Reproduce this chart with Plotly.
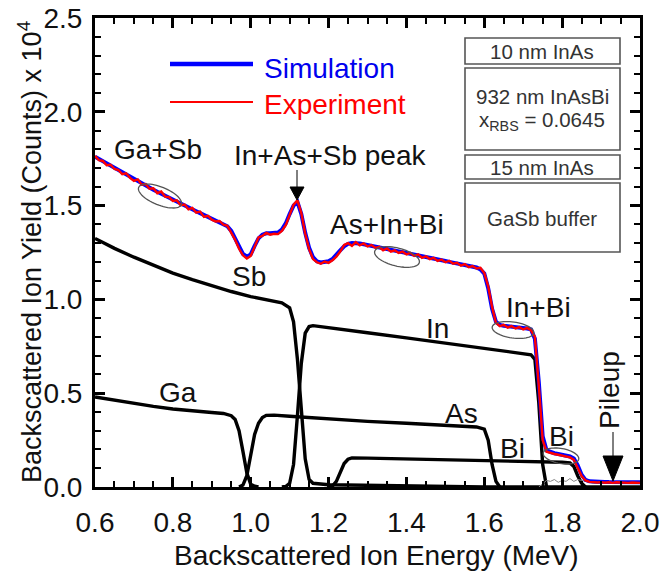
import plotly.graph_objects as go
import math

# ---------------- data (counts x 10^4) ----------------
energy = [round(0.60 + 0.01 * i, 2) for i in range(141)]

simulation = [
    1.760, 1.748, 1.736, 1.724, 1.712, 1.700, 1.688, 1.676, 1.664, 1.652,
    1.640, 1.629, 1.618, 1.607, 1.596, 1.585, 1.574, 1.563, 1.552, 1.541,
    1.530, 1.520, 1.510, 1.500, 1.490, 1.480, 1.470, 1.460, 1.450, 1.440,
    1.430, 1.422, 1.414, 1.405, 1.390, 1.365, 1.325, 1.280, 1.243, 1.228,
    1.240, 1.285, 1.325, 1.345, 1.352, 1.352, 1.352, 1.356, 1.372, 1.405,
    1.455, 1.500, 1.520, 1.455, 1.355, 1.275, 1.225, 1.203, 1.197, 1.198,
    1.203, 1.215, 1.235, 1.262, 1.283, 1.296, 1.300, 1.300, 1.298, 1.294,
    1.290, 1.286, 1.282, 1.277, 1.273, 1.269, 1.265, 1.260, 1.256, 1.252,
    1.248, 1.243, 1.239, 1.235, 1.230, 1.226, 1.222, 1.217, 1.213, 1.209,
    1.205, 1.200, 1.196, 1.192, 1.188, 1.183, 1.179, 1.175, 1.170, 1.160,
    1.138, 1.060, 0.950, 0.880, 0.864, 0.860, 0.858, 0.855, 0.853, 0.850,
    0.848, 0.845, 0.840, 0.790, 0.560, 0.270, 0.195, 0.185, 0.180, 0.176,
    0.172, 0.168, 0.163, 0.152, 0.115, 0.065, 0.038, 0.030, 0.028, 0.027,
    0.027, 0.027, 0.026, 0.026, 0.026, 0.026, 0.025, 0.025, 0.025, 0.025,
    0.025,
]

experiment = [
    1.765, 1.742, 1.738, 1.715, 1.718, 1.695, 1.690, 1.668, 1.672, 1.648,
    1.632, 1.640, 1.612, 1.615, 1.590, 1.592, 1.566, 1.575, 1.548, 1.545,
    1.525, 1.528, 1.502, 1.506, 1.480, 1.488, 1.462, 1.468, 1.440, 1.446,
    1.425, 1.415, 1.418, 1.398, 1.392, 1.358, 1.318, 1.270, 1.235, 1.218,
    1.232, 1.280, 1.330, 1.338, 1.355, 1.345, 1.350, 1.348, 1.365, 1.395,
    1.448, 1.505, 1.528, 1.460, 1.350, 1.268, 1.215, 1.198, 1.190, 1.202,
    1.195, 1.208, 1.228, 1.255, 1.290, 1.300, 1.285, 1.305, 1.288, 1.298,
    1.282, 1.290, 1.275, 1.280, 1.262, 1.272, 1.255, 1.262, 1.248, 1.255,
    1.240, 1.248, 1.232, 1.240, 1.222, 1.230, 1.215, 1.222, 1.205, 1.212,
    1.198, 1.206, 1.190, 1.195, 1.180, 1.188, 1.172, 1.178, 1.165, 1.168,
    1.140, 1.070, 0.960, 0.875, 0.858, 0.865, 0.850, 0.858, 0.845, 0.852,
    0.840, 0.848, 0.835, 0.800, 0.540, 0.250, 0.188, 0.180, 0.176, 0.172,
    0.168, 0.164, 0.158, 0.145, 0.105, 0.058, 0.035, 0.027, 0.026, 0.024,
    0.026, 0.023, 0.025, 0.022, 0.025, 0.023, 0.024, 0.022, 0.024, 0.023,
    0.022,
]

sb_x = [0.60, 0.65, 0.70, 0.75, 0.80, 0.85, 0.90, 0.95, 1.00, 1.05, 1.08,
        1.10, 1.11, 1.12, 1.13, 1.14, 1.15, 1.16, 1.20, 1.30, 1.40, 1.60, 2.00]
sb_y = [1.325, 1.272, 1.225, 1.182, 1.140, 1.105, 1.072, 1.042, 1.015, 0.995, 0.982,
        0.955, 0.880, 0.680, 0.400, 0.150, 0.040, 0.020, 0.012, 0.008, 0.005, 0.0, 0.0]

ga_x = [0.60, 0.65, 0.70, 0.75, 0.80, 0.85, 0.90, 0.93, 0.95, 0.96, 0.97,
        0.98, 0.99, 1.00, 1.01, 1.02]
ga_y = [0.480, 0.462, 0.446, 0.430, 0.416, 0.405, 0.397, 0.392, 0.380, 0.360, 0.300,
        0.190, 0.075, 0.015, 0.004, 0.0]

as_x = [0.97, 0.98, 0.99, 1.00, 1.01, 1.02, 1.03, 1.04, 1.06, 1.10, 1.20,
        1.30, 1.40, 1.50, 1.58, 1.60, 1.61, 1.62, 1.63, 1.64]
as_y = [0.0, 0.010, 0.060, 0.170, 0.280, 0.340, 0.370, 0.382, 0.383, 0.377, 0.362,
        0.350, 0.340, 0.330, 0.320, 0.308, 0.250, 0.120, 0.030, 0.0]

in_x = [1.08, 1.09, 1.10, 1.11, 1.12, 1.13, 1.14, 1.15, 1.16, 1.20, 1.30,
        1.40, 1.50, 1.60, 1.64, 1.70, 1.72, 1.73, 1.74, 1.75, 1.76]
in_y = [0.0, 0.003, 0.020, 0.120, 0.380, 0.660, 0.820, 0.855, 0.860, 0.850, 0.822,
        0.795, 0.768, 0.740, 0.729, 0.712, 0.705, 0.680, 0.450, 0.120, 0.0]

bi_x = [1.20, 1.21, 1.22, 1.23, 1.24, 1.25, 1.26, 1.30, 1.40, 1.50, 1.60,
        1.70, 1.80, 1.82, 1.83, 1.84, 1.85, 1.86]
bi_y = [0.0, 0.005, 0.030, 0.080, 0.125, 0.148, 0.155, 0.154, 0.150, 0.146, 0.142,
        0.137, 0.132, 0.128, 0.110, 0.060, 0.020, 0.0]

gray_x = [1.74, 1.75, 1.76, 1.77, 1.78, 1.79, 1.80, 1.81, 1.82, 1.83, 1.84,
          1.85, 1.86, 1.87, 1.88, 1.90]
gray_y = [0.0, 0.020, 0.035, 0.030, 0.040, 0.025, 0.035, 0.030, 0.045, 0.030, 0.040,
          0.035, 0.030, 0.025, 0.020, 0.020]

# ---------------- layout helpers (pixel -> data) ----------------
L, R, T, B = 95, 640, 18, 487
XMIN, XMAX, YMIN, YMAX = 0.6, 2.0, 0.0, 2.5


def dx(px):
    return XMIN + (px - L) / (R - L) * (XMAX - XMIN)


def dy(py):
    return YMIN + (B - py) / (B - T) * (YMAX - YMIN)


FONT = "Arial, Liberation Sans, sans-serif"
FS = 28

fig = go.Figure()

black = dict(color="black", width=3.4)
for xs, ys in [(sb_x, sb_y), (ga_x, ga_y), (as_x, as_y), (in_x, in_y), (bi_x, bi_y)]:
    fig.add_trace(go.Scatter(x=xs, y=ys, mode="lines", line=black,
                             showlegend=False, hoverinfo="skip"))
fig.add_trace(go.Scatter(x=gray_x, y=gray_y, mode="lines",
                         line=dict(color="#888888", width=1), showlegend=False))
fig.add_trace(go.Scatter(x=energy, y=simulation, mode="lines", name="Simulation",
                         line=dict(color="#0000ff", width=4), showlegend=False))
fig.add_trace(go.Scatter(x=energy, y=experiment, mode="lines", name="Experiment",
                         line=dict(color="#ff0000", width=2.4), showlegend=False))

shapes = []

# ellipses (pixel centre, semi-axes, tilt in degrees)
ellipses = [(160, 196, 23, 9, 22), (397, 257, 23, 9, 14), (513, 330, 21, 8, 8), (561, 456, 18, 7.5, 10)]
for cx, cy, a, b, ang in ellipses:
    th = math.radians(ang)
    pts = []
    for k in range(61):
        t = 2 * math.pi * k / 60
        ex = a * math.cos(t)
        ey = b * math.sin(t)
        px = cx + ex * math.cos(th) - ey * math.sin(th)
        py = cy + ex * math.sin(th) + ey * math.cos(th)
        pts.append((dx(px), dy(py)))
    path = "M " + " L ".join(f"{x:.5f},{y:.5f}" for x, y in pts) + " Z"
    shapes.append(dict(type="path", path=path, xref="x", yref="y",
                       line=dict(color="#555555", width=1.3)))

# layer boxes
boxes = [(465, 38, 620, 64), (465, 68, 620, 150), (465, 155, 620, 179), (465, 183, 620, 252)]
for x0, y0, x1, y1 in boxes:
    shapes.append(dict(type="rect", xref="x", yref="y", x0=dx(x0), x1=dx(x1),
                       y0=dy(y0), y1=dy(y1), line=dict(color="#555555", width=1.6),
                       fillcolor="white"))

# legend lines
shapes.append(dict(type="line", xref="x", yref="y", x0=dx(170), x1=dx(253), y0=dy(64), y1=dy(64),
                   line=dict(color="#0000ff", width=4.5)))
shapes.append(dict(type="line", xref="x", yref="y", x0=dx(170), x1=dx(253), y0=dy(102), y1=dy(102),
                   line=dict(color="#ff0000", width=2)))

# peak arrow
shapes.append(dict(type="line", xref="x", yref="y", x0=dx(297), x1=dx(297), y0=dy(170), y1=dy(188),
                   line=dict(color="black", width=1)))
shapes.append(dict(type="path", xref="x", yref="y",
                   path=f"M {dx(290)},{dy(187)} L {dx(304)},{dy(187)} L {dx(297)},{dy(200)} Z",
                   fillcolor="black", line=dict(color="black", width=1)))
# pileup arrow
shapes.append(dict(type="line", xref="x", yref="y", x0=dx(613), x1=dx(613), y0=dy(432), y1=dy(456),
                   line=dict(color="black", width=1)))
shapes.append(dict(type="path", xref="x", yref="y",
                   path=f"M {dx(603)},{dy(456)} L {dx(623)},{dy(456)} L {dx(613)},{dy(481)} Z",
                   fillcolor="black", line=dict(color="black", width=1)))

annos = []


def label(text, px, py, size=FS, color="#111111", angle=0, xanchor="center"):
    annos.append(dict(text=text, x=dx(px), y=dy(py), xref="x", yref="y", showarrow=False,
                      font=dict(family=FONT, size=size, color=color), textangle=angle,
                      xanchor=xanchor, yanchor="middle"))


label("Ga+Sb", 158, 149)
label("In+As+Sb peak", 330, 155)
label("Sb", 249, 276)
label("As+In+Bi", 387, 224)
label("In", 437, 328)
label("In+Bi", 538, 307)
label("Ga", 178, 392)
label("As", 461, 413)
label("Bi", 512, 448)
label("Bi", 561, 436)
label("Pileup", 609, 390, angle=-90)
label("Simulation", 262, 68, color="#0000ee", xanchor="left")
label("Experiment", 262, 104, color="#ff0000", xanchor="left")

BFS = 20.5
label("10 nm InAs", 542, 51, size=BFS, color="#333333")
label("932 nm InAsBi", 542, 96, size=BFS, color="#333333")
label("x<sub>RBS</sub> = 0.0645", 542, 121, size=BFS, color="#333333")
label("15 nm InAs", 542, 167, size=BFS, color="#333333")
label("GaSb buffer", 542, 218, size=BFS, color="#333333")

annos.append(dict(text="Backscattered Ion Energy (MeV)", x=0.517, y=-0.145, xref="paper", yref="paper",
                  showarrow=False, font=dict(family=FONT, size=FS, color="#111111"),
                  xanchor="center", yanchor="middle"))
annos.append(dict(text="Backscattered Ion Yield (Counts) x 10<sup>4</sup>", x=-0.12, y=0.5,
                  xref="paper", yref="paper", showarrow=False, textangle=-90,
                  font=dict(family=FONT, size=27, color="#111111"),
                  xanchor="center", yanchor="middle"))

axis_common = dict(showline=True, linecolor="black", linewidth=3, mirror="ticks",
                   ticks="inside", ticklen=10, tickwidth=2.5, tickcolor="black",
                   showgrid=False, zeroline=False, automargin=False,
                   tickfont=dict(family=FONT, size=FS, color="#111111"))

fig.update_layout(
    width=660, height=576,
    margin=dict(l=L, r=660 - R, t=T, b=576 - B, autoexpand=False),
    plot_bgcolor="white", paper_bgcolor="white",
    xaxis=dict(range=[XMIN, XMAX], tick0=0.6, dtick=0.2, tickformat=".1f",
               minor=dict(dtick=0.05, ticks="inside", ticklen=6, tickwidth=2, tickcolor="black"),
               ticklabelstandoff=8, **axis_common),
    yaxis=dict(range=[YMIN, YMAX], tick0=0, dtick=0.5, tickformat=".1f",
               minor=dict(dtick=0.1, ticks="inside", ticklen=6, tickwidth=2, tickcolor="black"),
               ticklabelstandoff=4, **axis_common),
    shapes=shapes,
    annotations=annos,
)

fig.write_html("out.html")
